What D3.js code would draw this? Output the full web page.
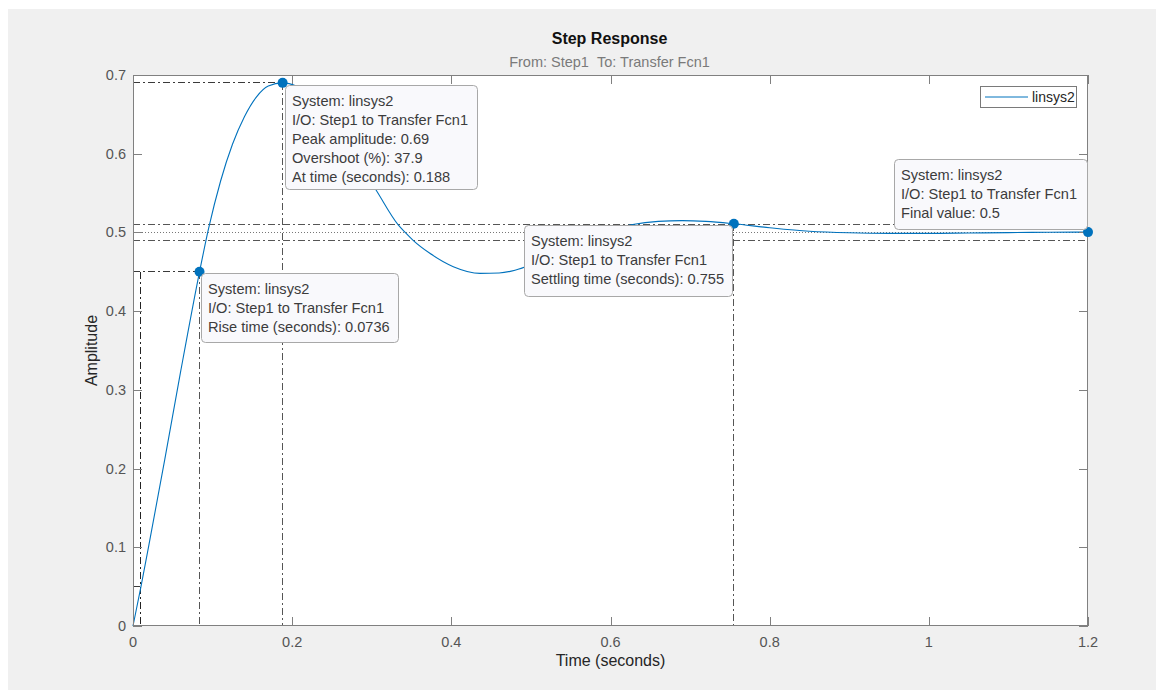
<!DOCTYPE html>
<html>
<head>
<meta charset="utf-8">
<script src="https://cdn.jsdelivr.net/npm/d3@7"></script>
<style>
  html, body { margin: 0; padding: 0; background: #ffffff; }
  svg { display: block; }
  text { font-family: "Liberation Sans", Arial, Helvetica, sans-serif; white-space: pre; }
</style>
</head>
<body>
<svg id="chart" width="1156" height="690"></svg>
<script>
// ---- Data ----
const timeValues = [0, 0.01, 0.02, 0.04, 0.06, 0.0836, 0.095, 0.11, 0.125, 0.14, 0.155, 0.17, 0.188,
  0.205, 0.22, 0.25, 0.28, 0.306, 0.333, 0.342, 0.352, 0.373, 0.4025, 0.436, 0.46, 0.48, 0.50, 0.52,
  0.55, 0.58, 0.60, 0.628, 0.66, 0.69, 0.72, 0.755, 0.80, 0.85, 0.90, 0.95, 1.0, 1.05, 1.1, 1.15, 1.2];
const amplitudeValues = [0, 0.05, 0.103, 0.212, 0.324, 0.45, 0.505, 0.565, 0.612, 0.647, 0.672, 0.686, 0.69,
  0.686, 0.677, 0.644, 0.595, 0.553, 0.51, 0.5, 0.49, 0.4735, 0.4565, 0.448, 0.4485, 0.452, 0.459, 0.468,
  0.482, 0.495, 0.503, 0.510, 0.514, 0.515, 0.514, 0.511, 0.506, 0.5015, 0.4995, 0.4988, 0.4988, 0.4993, 0.4998, 0.5002, 0.5004];
const xTicks = [0, 0.2, 0.4, 0.6, 0.8, 1, 1.2];
const yTicks = [0, 0.1, 0.2, 0.3, 0.4, 0.5, 0.6, 0.7];
const seriesName = "linsys2";

// characteristic points
const riseStart = { t: 0.01, y: 0.05 };
const riseEnd = { t: 0.0836, y: 0.45 };
const peak = { t: 0.188, y: 0.69 };
const settle = { t: 0.755, y: 0.511 };
const finalPt = { t: 1.2, y: 0.5004 };
const finalValue = 0.5;
const settleBand = [0.49, 0.51];

const annotations = [
  { lines: ["System: linsys2", "I/O: Step1 to Transfer Fcn1", "Peak amplitude: 0.69", "Overshoot (%): 37.9", "At time (seconds): 0.188"] },
  { lines: ["System: linsys2", "I/O: Step1 to Transfer Fcn1", "Rise time (seconds): 0.0736"] },
  { lines: ["System: linsys2", "I/O: Step1 to Transfer Fcn1", "Settling time (seconds): 0.755"] },
  { lines: ["System: linsys2", "I/O: Step1 to Transfer Fcn1", "Final value: 0.5"] }
];
// box geometry (layout)
const boxLayout = [
  { x: 285, y: 85, w: 192, h: 104 },
  { x: 201, y: 273, w: 197, h: 69 },
  { x: 524, y: 225, w: 208, h: 71 },
  { x: 894, y: 159, w: 193, h: 70 }
];

// ---- Layout ----
const svg = d3.select("#chart");
const W = 1156, H = 690;
const plot = { left: 133, right: 1088, top: 75, bottom: 626 };

svg.append("rect").attr("x", 0).attr("y", 0).attr("width", W).attr("height", H).attr("fill", "#ffffff");
svg.append("rect").attr("x", 8).attr("y", 9).attr("width", W - 8).attr("height", H - 9).attr("fill", "#f0f0f0");

const x = d3.scaleLinear().domain([0, 1.2]).range([plot.left, plot.right]);
const y = d3.scaleLinear().domain([0, 0.7]).range([plot.bottom, plot.top]);

// plot background
svg.append("rect")
  .attr("x", plot.left).attr("y", plot.top)
  .attr("width", plot.right - plot.left).attr("height", plot.bottom - plot.top)
  .attr("fill", "#ffffff");

const g = svg.append("g");

// ---- characteristic lines ----
const dashDot = "7,3,2,3";
const charColor = "#3a3a3a";
function seg(x1, y1, x2, y2, dash, color) {
  g.append("line")
    .attr("x1", x1).attr("y1", y1).attr("x2", x2).attr("y2", y2)
    .attr("stroke", color || charColor).attr("stroke-width", 1)
    .attr("stroke-dasharray", dash).attr("shape-rendering", "crispEdges");
}
// settling band and final value
seg(plot.left, y(settleBand[1]), plot.right, y(settleBand[1]), dashDot, "#555");
seg(plot.left, y(settleBand[0]), plot.right, y(settleBand[0]), dashDot, "#555");
seg(plot.left, y(finalValue), plot.right, y(finalValue), "1,2", "#777");
// rise time
seg(plot.left, y(riseEnd.y), x(riseEnd.t), y(riseEnd.y), dashDot);
seg(plot.left, y(riseStart.y), x(riseStart.t), y(riseStart.y), dashDot);
seg(x(riseStart.t), y(riseEnd.y), x(riseStart.t), plot.bottom, dashDot, "#222");
seg(x(riseEnd.t), y(riseEnd.y), x(riseEnd.t), plot.bottom, dashDot, "#555");
// peak
seg(plot.left, y(peak.y), x(peak.t), y(peak.y), dashDot);
seg(x(peak.t), y(peak.y), x(peak.t), plot.bottom, dashDot, "#555");
// settling time
seg(x(settle.t), y(settle.y), x(settle.t), plot.bottom, dashDot, "#555");

// ---- curve ----
const pts = timeValues.map((t, i) => [t, amplitudeValues[i]]);
const line = d3.line().x(d => x(d[0])).y(d => y(d[1])).curve(d3.curveMonotoneX);
g.append("path").datum(pts)
  .attr("d", line).attr("fill", "none")
  .attr("stroke", "#0072BD").attr("stroke-width", 1.1);

// ---- axes box and ticks ----
const axColor = "#808080";
const tickLen = 9;
const axes = svg.append("g");
axes.append("rect")
  .attr("x", plot.left + 0.5).attr("y", plot.top + 0.5)
  .attr("width", plot.right - plot.left - 1).attr("height", plot.bottom - plot.top - 1)
  .attr("fill", "none").attr("stroke", axColor).attr("stroke-width", 1);

xTicks.forEach(t => {
  const px = Math.round(x(t)) + 0.5;
  axes.append("line").attr("x1", px).attr("x2", px).attr("y1", plot.bottom).attr("y2", plot.bottom - tickLen).attr("stroke", axColor);
  axes.append("line").attr("x1", px).attr("x2", px).attr("y1", plot.top).attr("y2", plot.top + tickLen).attr("stroke", axColor);
  axes.append("text").attr("x", x(t)).attr("y", plot.bottom + 21)
    .attr("text-anchor", "middle").attr("font-size", 14.5).attr("fill", "#555")
    .text(d3.format("~g")(t));
});
yTicks.forEach(v => {
  const py = Math.round(y(v)) + 0.5;
  axes.append("line").attr("y1", py).attr("y2", py).attr("x1", plot.left).attr("x2", plot.left + tickLen).attr("stroke", axColor);
  axes.append("line").attr("y1", py).attr("y2", py).attr("x1", plot.right).attr("x2", plot.right - tickLen).attr("stroke", axColor);
  axes.append("text").attr("x", plot.left - 7).attr("y", y(v) + 5)
    .attr("text-anchor", "end").attr("font-size", 14.5).attr("fill", "#555")
    .text(d3.format("~g")(v));
});

// ---- titles ----
const cx = (plot.left + plot.right) / 2;
svg.append("text").attr("x", cx - 1).attr("y", 44).attr("text-anchor", "middle")
  .attr("font-size", 16).attr("font-weight", "bold").attr("fill", "#111").text("Step Response");
svg.append("text").attr("x", cx - 1).attr("y", 67).attr("text-anchor", "middle")
  .attr("font-size", 14.5).attr("fill", "#7a7a7a").text("From: Step1\u00a0\u00a0To: Transfer Fcn1");
svg.append("text").attr("x", cx).attr("y", 666).attr("text-anchor", "middle")
  .attr("font-size", 16).attr("fill", "#262626").text("Time (seconds)");
svg.append("text").attr("transform", `translate(97, ${(plot.top + plot.bottom) / 2}) rotate(-90)`)
  .attr("text-anchor", "middle").attr("font-size", 16).attr("fill", "#262626").text("Amplitude");

// ---- markers ----
const markers = [riseEnd, peak, settle, finalPt];
svg.append("g").selectAll("circle").data(markers).join("circle")
  .attr("cx", d => x(d.t)).attr("cy", d => y(d.y)).attr("r", 5)
  .attr("fill", "#0072BD");

// ---- annotation boxes ----
const boxG = svg.append("g");
annotations.forEach((a, i) => {
  const b = boxLayout[i];
  boxG.append("rect").attr("x", b.x + 0.5).attr("y", b.y + 0.5).attr("width", b.w).attr("height", b.h)
    .attr("rx", 4).attr("ry", 4)
    .attr("fill", "#f9f9fc").attr("stroke", "#a8a8a8").attr("stroke-width", 1);
  a.lines.forEach((ln, j) => {
    boxG.append("text").attr("x", b.x + 7).attr("y", b.y + 21 + j * 19)
      .attr("font-size", 14.6).attr("fill", "#3c3c3c").text(ln);
  });
});

// ---- legend ----
const lg = svg.append("g");
lg.append("rect").attr("x", 980.5).attr("y", 86.5).attr("width", 96).attr("height", 21)
  .attr("fill", "#ffffff").attr("stroke", "#7a7a7a");
lg.append("line").attr("x1", 985).attr("x2", 1028).attr("y1", 97).attr("y2", 97)
  .attr("stroke", "#0072BD").attr("stroke-width", 1);
lg.append("text").attr("x", 1032).attr("y", 102).attr("font-size", 14).attr("fill", "#262626").text(seriesName);
</script>
</body>
</html>
